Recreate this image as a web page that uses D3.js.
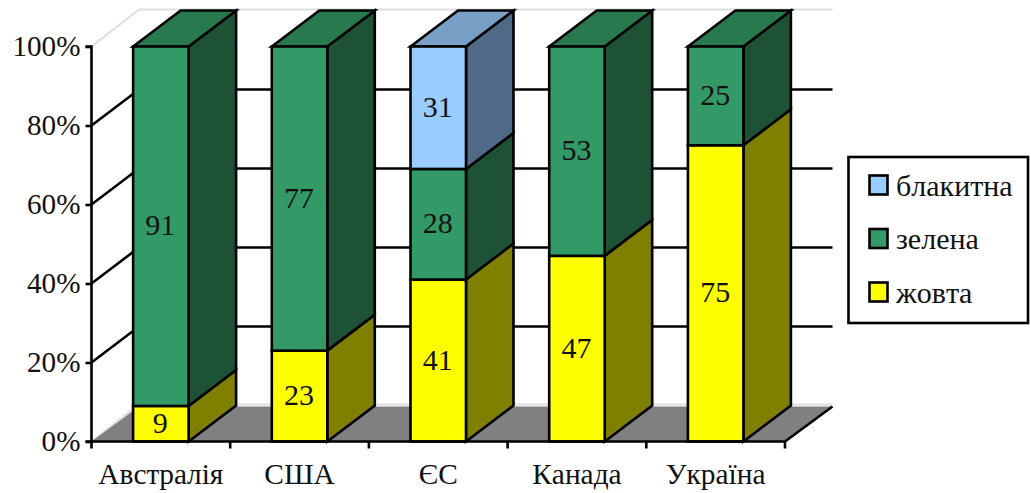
<!DOCTYPE html>
<html><head><meta charset="utf-8">
<script src="https://cdn.jsdelivr.net/npm/d3@7"></script>
<style>html,body{margin:0;background:#fff}svg{display:block}text{font-family:"Liberation Serif","Times New Roman",serif;fill:#111;font-kerning:none}</style>
</head><body><div id="c"></div>
<script>
const categories = ["Австралія","США","ЄС","Канада","Україна"];
const yellowValues = [9,23,41,47,75];
const greenValues = [91,77,28,53,25];
const blueValues = [0,0,31,0,0];
const seriesNames = ["жовта","зелена","блакитна"];
const seriesColors = ["#FFFF00","#339966","#99CCFF"];
const topColors = ["#CCCC00","#29794F","#7A9FC6"];
const sideColors = ["#808000","#1D5237","#4F6A87"];
const yTicks = [0,20,40,60,80,100];
const legendOrder = [2,1,0];

const W=1031,H=493, dx=47.5, dy=-36, sw=2.6;
const x=d3.scaleBand().domain(categories).range([91.5,785]).paddingInner(0.6).paddingOuter(0.3);
const y=d3.scaleLinear().domain([0,100]).range([441.5,46.5]);
const svg=d3.select("#c").append("svg").attr("width",W).attr("height",H);
const L=x.range()[0], R=x.range()[1];

// walls
const wall=svg.append("g");
yTicks.filter(t=>t>0&&t<100).forEach(t=>{
  wall.append("path").attr("d",`M${L},${y(t)}L${L+dx},${y(t)+dy}H${R+dx}`)
    .attr("fill","none").attr("stroke","#000").attr("stroke-width",sw);
});
[0,100].forEach(t=>{
  wall.append("path").attr("d",`M${L},${y(t)}L${L+dx},${y(t)+dy-1}H${R+dx}`)
    .attr("fill","none").attr("stroke","#ddd").attr("stroke-width",2);
});
wall.append("polygon").attr("points",[[L,y(0)],[R,y(0)],[R+dx,y(0)+dy+1],[L+dx,y(0)+dy+1]].join(" ")).attr("fill","#808080");
wall.append("path").attr("d",`M${R},${y(0)}L${R+dx},${y(0)+dy+1}`).attr("stroke","#000").attr("stroke-width",sw);

// bars
const rows=categories.map((c,i)=>({cat:c,"0":yellowValues[i],"1":greenValues[i],"2":blueValues[i]}));
const stacked=d3.stack().keys(["0","1","2"])(rows);
const barsG=svg.append("g").attr("stroke","#000").attr("stroke-width",sw).attr("stroke-linejoin","miter");
categories.forEach((c,i)=>{
  const g=barsG.append("g");
  stacked.forEach((s,k)=>{
    const [a,b]=s[i]; if(b-a<=0) return;
    const l=x(c), r=l+x.bandwidth(), t=y(b), bt=y(a);
    g.append("polygon").attr("points",[[r,bt],[r+dx,bt+dy],[r+dx,t+dy],[r,t]].join(" ")).attr("fill",sideColors[k]);
    if(b===100) g.append("polygon").attr("points",[[l,t],[l+dx,t+dy],[r+dx,t+dy],[r,t]].join(" ")).attr("fill",topColors[k]);
    g.append("rect").attr("x",l).attr("y",t).attr("width",r-l).attr("height",bt-t).attr("fill",seriesColors[k]);
  });
  stacked.forEach((s,k)=>{
    const [a,b]=s[i]; if(b-a<=0) return;
    svg.append("text").attr("x",x(c)+x.bandwidth()/2-0.5).attr("y",y((a+b)/2)).attr("dy","0.3em")
      .attr("text-anchor","middle").attr("font-size",30).text(b-a);
  });
});

// axes
const ay=svg.append("g").attr("transform",`translate(${L},0)`)
  .call(d3.axisLeft(y).tickValues(yTicks).tickFormat(d=>d+"%").tickSize(6).tickPadding(5));
ay.selectAll("path,line").attr("stroke","#000").attr("stroke-width",sw);
ay.selectAll("text").attr("font-size",29.2).attr("dy","0.3em");
ay.select(".domain").attr("d",`M${-6},${y(100)}H0V${y(0)}H-6`);
const ax=svg.append("g").attr("transform",`translate(0,${y(0)})`)
  .call(d3.axisBottom(x).tickSize(0).tickPadding(22));
ax.select(".domain").attr("d",`M${L},7V0H${R}V7`).attr("stroke","#000").attr("stroke-width",sw).attr("fill","none");
ax.selectAll("text").attr("font-size",29.4);
const step=x.step();
categories.slice(1).forEach((c,i)=>{
  ax.append("line").attr("x1",L+step*(i+1)).attr("x2",L+step*(i+1)).attr("y1",0).attr("y2",7).attr("stroke","#000").attr("stroke-width",sw);
});

// legend
const lg=svg.append("g");
lg.append("rect").attr("x",848.5).attr("y",157).attr("width",179.5).attr("height",166).attr("fill","#fff").attr("stroke","#000").attr("stroke-width",sw);
const ly=d3.scalePoint().domain(legendOrder).range([185,292]);
legendOrder.forEach(k=>{
  lg.append("rect").attr("x",869.5).attr("y",ly(k)-9.5).attr("width",18).attr("height",19).attr("fill",seriesColors[k]).attr("stroke","#000").attr("stroke-width",sw);
  lg.append("text").attr("x",896).attr("y",ly(k)+1).attr("dy","0.33em").attr("font-size",30).text(seriesNames[k]);
});
</script></body></html>
